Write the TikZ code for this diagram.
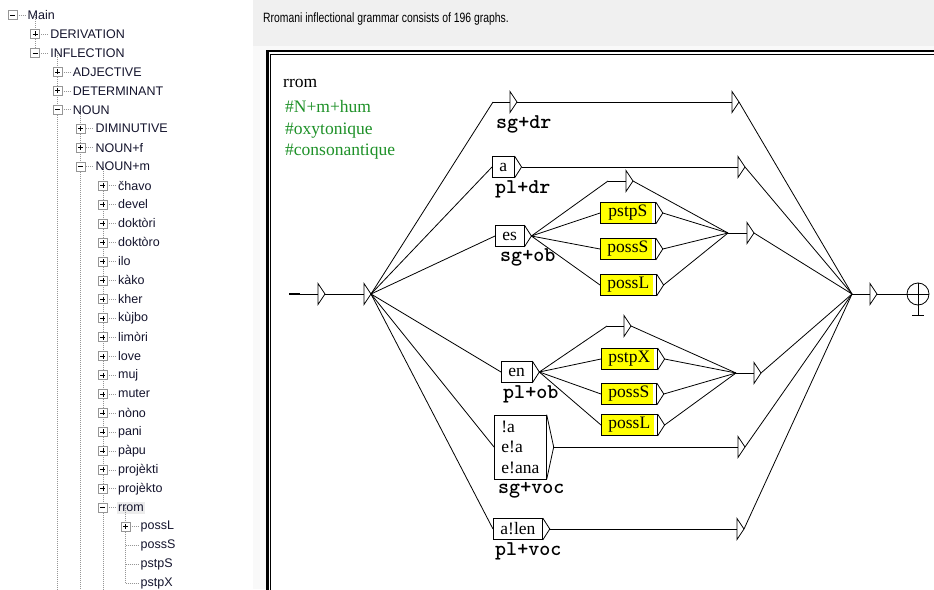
\documentclass[tikz,border=0pt]{standalone}
\usepackage{fontspec}
\setmainfont{Liberation Serif}
\newfontfamily\treefont{Liberation Sans}
\newfontfamily\headfont[FakeStretch=0.77]{Liberation Sans}
\usetikzlibrary{
  calc,
  positioning,
  backgrounds
}
\definecolor{panegray}{RGB}{240,240,240}
\definecolor{paneback}{RGB}{249,249,249}
\definecolor{treeline}{RGB}{150,150,150}
\definecolor{treetext}{RGB}{20,20,45}
\definecolor{selgray}{RGB}{236,236,236}
\definecolor{commgreen}{RGB}{30,145,40}
\definecolor{boxyellow}{RGB}{255,255,0}
% empty box: left end, a short line, then the open triangle
\newcommand{\epsbox}[3]{%
  \coordinate (#1) at (#2);
  \draw[edge] (#1) -- ++(#3,0) coordinate (#1-b);
  \draw[tri] ($(#1-b)+(0,-10.5)$) -- ($(#1-b)+(7,0)$) coordinate (#1-o)
    -- ($(#1-b)+(0,10.5)$) -- cycle;}

\begin{document}
\begin{tikzpicture}[
  x=1pt, y=-1pt,
  edge/.style={line width=0.8pt},
  tri/.style={line width=0.8pt, fill=white},
  gbox/.style={draw, line width=0.8pt, fill=white, minimum height=21pt,
               inner xsep=7pt, inner ysep=0.5pt, anchor=west,
               font=\fontsize{17.5}{20.5}\selectfont},
  ybox/.style={gbox, fill=boxyellow, minimum width=55pt,
               path picture={\fill[white] ([xshift=-3pt]path picture bounding box.north east)
                 rectangle (path picture bounding box.south east);}},
  outp/.style={inner sep=0pt, anchor=base west, font=\ttfamily\bfseries\fontsize{21}{22}\selectfont},
  comm/.style={anchor=base west, inner sep=0pt, text=commgreen,
               font=\fontsize{17.5}{20}\selectfont},
  tlabel/.style={anchor=west, inner sep=0pt, text=treetext,
                 font=\treefont\fontsize{12.5}{14}\selectfont},
  tbox/.style={draw=treeline, fill=white, minimum size=9pt, inner sep=0pt, line width=0.6pt},
  tminus/.style={tbox, path picture={\draw[black, line width=0.7pt]
      ([xshift=-2.5pt]path picture bounding box.center) -- ([xshift=2.5pt]path picture bounding box.center);}},
  tplus/.style={tbox, path picture={\draw[black, line width=0.7pt]
      ([xshift=-2.5pt]path picture bounding box.center) -- ([xshift=2.5pt]path picture bounding box.center)
      ([yshift=-2.5pt]path picture bounding box.center) -- ([yshift=2.5pt]path picture bounding box.center);}},
  tnone/.style={shape=coordinate},
  treedots/.style={draw=treeline, line width=0.6pt, dash pattern=on 1pt off 1pt}
]
\useasboundingbox (0,0) rectangle (934,589);
\clip (0,0) rectangle (934,589);

% right pane
\fill[paneback] (253,46) rectangle (934,589);
\fill[panegray] (253,0) rectangle (934,46);
\node[anchor=west, inner sep=0pt, font=\headfont\fontsize{13.5}{15}\selectfont] (head) at (263,19)
  {Rromani inflectional grammar consists of 196 graphs.};
\draw[line width=2.2pt, fill=white] (267.5,51) rectangle (950,600);
\draw[line width=1pt] (270.5,54) rectangle (950,600);

% tree view
\foreach \lv/\txt/\ic [count=\i from 0] in {
    0/Main/tminus, 1/DERIVATION/tplus, 1/INFLECTION/tminus,
    2/ADJECTIVE/tplus, 2/DETERMINANT/tplus, 2/NOUN/tminus,
    3/DIMINUTIVE/tplus, 3/NOUN+f/tplus, 3/NOUN+m/tminus,
    4/čhavo/tplus, 4/devel/tplus, 4/doktòri/tplus, 4/doktòro/tplus,
    4/ilo/tplus, 4/kàko/tplus, 4/kher/tplus, 4/kùjbo/tplus,
    4/limòri/tplus, 4/love/tplus, 4/muj/tplus, 4/muter/tplus,
    4/nòno/tplus, 4/pani/tplus, 4/pàpu/tplus, 4/projèkti/tplus,
    4/projèkto/tplus, 4/rrom/tminus,
    5/possL/tplus, 5/possS/tnone, 5/pstpS/tnone, 5/pstpX/tnone} {
  \draw[treedots] ({12.5+22.6*\lv},{15+18.95*\i}) -- ++(13,0);
  \node[\ic] (i\i) at ({12.5+22.6*\lv},{15+18.95*\i}) {};
  \node[tlabel] (t\i) at ({27.5+22.6*\lv},{15+18.95*\i}) {\txt};
}
\begin{scope}[on background layer]
  \fill[white] (0,0) rectangle (253,589);
  \fill[selgray] ($(t26.north west)+(-1,-2)$) rectangle ($(t26.south east)+(1,3)$);
  \draw[treedots] (i0 -| i1) -- (i2);
  \draw[treedots] (i2 -| i3) -- (i3 |- 0,589);
  \draw[treedots] (i5 -| i6) -- (i6 |- 0,589);
  \draw[treedots] (i8 -| i9) -- (i9 |- 0,589);
  \draw[treedots] (i26 -| i27) -- (i30);
\end{scope}

% graph name and comments
\node[anchor=base west, inner sep=0pt, font=\fontsize{17.5}{20}\selectfont] (gname) at (283,87) {rrom};
\node[comm] (c1) at (285,112) {\#N+m+hum};
\node[comm] (c2) at (285,134) {\#oxytonique};
\node[comm] (c3) at (285,155) {\#consonantique};

% initial state
\epsbox{init}{289,294}{29}
\draw[line width=2.5pt] (init) -- ++(11,0);
\epsbox{e0}{345,294}{19}

% boxes
\epsbox{esgdr}{493,102}{17}
\node[gbox] (ba) at (492,167) {a};
\node[gbox] (bes) at (495,236) {es};
\node[gbox] (ben) at (501,372) {en};
\node[gbox, align=left, minimum height=64pt] (bvoc) at (494,447) {!a\\e!a\\e!ana};
\node[gbox] (balen) at (493,529) {a!len};
\node[ybox] (ys1) at (600,213) {pstpS};
\node[ybox] (ys2) at (600,249) {possS};
\node[ybox] (ys3) at (600,285) {possL};
\node[ybox] (yx1) at (601,359) {pstpX};
\node[ybox] (yx2) at (601,394) {possS};
\node[ybox] (yx3) at (601,425) {possL};
\foreach \b in {ba,bes,ben,bvoc,balen,ys1,ys2,ys3,yx1,yx2,yx3}
  \draw[edge] (\b.north east) -- ($(\b.east)+(7,0)$) coordinate (\b-o) -- (\b.south east);

% outputs
\node[outp] (osgdr) at ($(esgdr)+(3,26)$) {sg+dr};
\node[outp] (opldr) at ($(ba.south west)+(3,16)$) {pl+dr};
\node[outp] (osgob) at ($(bes.south west)+(5,15)$) {sg+ob};
\node[outp] (oplob) at ($(ben.south west)+(2,16)$) {pl+ob};
\node[outp] (osgvoc) at ($(bvoc.south west)+(4,14)$) {sg+voc};
\node[outp] (oplvoc) at ($(balen.south west)+(2,15.5)$) {pl+voc};

% empty boxes on the right
\epsbox{e1r}{715,102}{17}
\epsbox{e2r}{721,167}{17}
\epsbox{eob1}{608,181}{18}
\epsbox{jn1}{728,233}{19}
\epsbox{eob2}{607,326}{17}
\epsbox{jn2}{736,373}{18}
\epsbox{e5r}{721,447}{17}
\epsbox{e6r}{720,529}{17}
\epsbox{efin}{852,294}{18}

% final state
\node[draw, circle, line width=0.8pt, minimum size=22pt, inner sep=0pt] (fin) at (918,294) {};
\draw[edge] (fin.north) -- ($(fin.south)+(0,10)$) (fin.west) -- (fin.east)
  ($(fin.south)+(-6,10)$) -- ($(fin.south)+(6,10)$);

% transitions
\draw[edge] (init-o) -- (e0);
\foreach \t in {esgdr, ba.west, bes.west, ben.west, bvoc.west, balen.west}
  \draw[edge] (e0-o) -- (\t);
\draw[edge] (esgdr-o) -- (e1r);
\draw[edge] (ba-o) -- (e2r);
\foreach \t in {eob1, ys1.west, ys2.west, ys3.west}
  \draw[edge] (bes-o) -- (\t);
\foreach \s in {eob1, ys1, ys2, ys3}
  \draw[edge] (\s-o) -- (jn1);
\foreach \t in {eob2, yx1.west, yx2.west, yx3.west}
  \draw[edge] (ben-o) -- (\t);
\foreach \s in {eob2, yx1, yx2, yx3}
  \draw[edge] (\s-o) -- (jn2);
\draw[edge] (bvoc-o) -- (e5r);
\draw[edge] (balen-o) -- (e6r);
\foreach \s in {e1r, e2r, jn1, jn2, e5r, e6r}
  \draw[edge] (\s-o) -- (efin);
\draw[edge] (efin-o) -- (fin);

\end{tikzpicture}
\end{document}
